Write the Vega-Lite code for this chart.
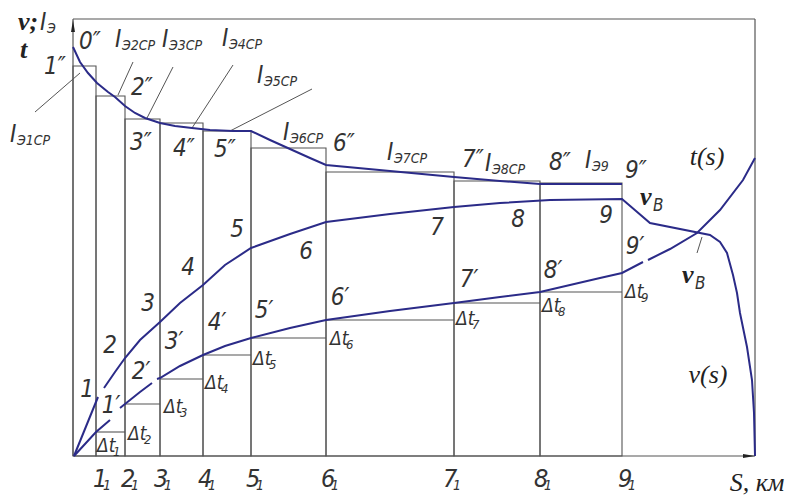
{
  "$schema": "https://vega.github.io/schema/vega-lite/v6.json",
  "width": 790,
  "height": 496,
  "padding": 0,
  "autosize": "none",
  "background": "white",
  "config": {"view": {"stroke": null}},
  "datasets": {
    "bars": [
      {"x": 0, "x2": 23, "y": 390},
      {"x": 23, "x2": 52, "y": 360},
      {"x": 52, "x2": 87, "y": 337},
      {"x": 87, "x2": 130, "y": 333},
      {"x": 130, "x2": 178, "y": 325},
      {"x": 178, "x2": 253, "y": 308},
      {"x": 253, "x2": 381, "y": 284},
      {"x": 381, "x2": 467, "y": 275},
      {"x": 467, "x2": 549, "y": 273}
    ],
    "dt": [
      {"x": 23, "x2": 52, "y": 24},
      {"x": 52, "x2": 87, "y": 52},
      {"x": 87, "x2": 130, "y": 77},
      {"x": 130, "x2": 178, "y": 101},
      {"x": 178, "x2": 253, "y": 118},
      {"x": 253, "x2": 381, "y": 136},
      {"x": 381, "x2": 467, "y": 153},
      {"x": 467, "x2": 549, "y": 164}
    ],
    "frame": [
      {"x": 0, "y": 0, "x2": 682, "y2": 0},
      {"x": 0, "y": 0, "x2": 0, "y2": 437},
      {"x": 0, "y": 437, "x2": 682, "y2": 437},
      {"x": 682, "y": 0, "x2": 682, "y2": 437}
    ],
    "leaders": [
      {"x": -38, "y": 344, "x2": 7, "y2": 383},
      {"x": 60, "y": 394, "x2": 45, "y2": 361},
      {"x": 100, "y": 389, "x2": 74, "y2": 338},
      {"x": 160, "y": 391, "x2": 119, "y2": 328},
      {"x": 239, "y": 367, "x2": 157, "y2": 325},
      {"x": 629, "y": 219, "x2": 624, "y2": 203}
    ],
    "curves": [
      {"seg": "u", "x": 0, "y": 409}, {"seg": "u", "x": 7, "y": 394}, {"seg": "u", "x": 15, "y": 383},
      {"seg": "u", "x": 24, "y": 373}, {"seg": "u", "x": 35, "y": 364}, {"seg": "u", "x": 42, "y": 359},
      {"seg": "u", "x": 52, "y": 350}, {"seg": "u", "x": 62, "y": 343}, {"seg": "u", "x": 72, "y": 338},
      {"seg": "u", "x": 87, "y": 333}, {"seg": "u", "x": 102, "y": 330}, {"seg": "u", "x": 119, "y": 328},
      {"seg": "u", "x": 137, "y": 326}, {"seg": "u", "x": 160, "y": 325}, {"seg": "u", "x": 178, "y": 325},
      {"seg": "u", "x": 197, "y": 316}, {"seg": "u", "x": 217, "y": 307}, {"seg": "u", "x": 237, "y": 298},
      {"seg": "u", "x": 253, "y": 291}, {"seg": "u", "x": 317, "y": 285}, {"seg": "u", "x": 381, "y": 279},
      {"seg": "u", "x": 427, "y": 275}, {"seg": "u", "x": 467, "y": 272}, {"seg": "u", "x": 507, "y": 272},
      {"seg": "u", "x": 549, "y": 272},
      {"seg": "v1", "x": 1, "y": 0}, {"seg": "v1", "x": 25, "y": 59},
      {"seg": "v2", "x": 31, "y": 68}, {"seg": "v2", "x": 42, "y": 84}, {"seg": "v2", "x": 52, "y": 98},
      {"seg": "v2", "x": 67, "y": 116}, {"seg": "v2", "x": 87, "y": 134}, {"seg": "v2", "x": 107, "y": 153},
      {"seg": "v2", "x": 130, "y": 171}, {"seg": "v2", "x": 152, "y": 191}, {"seg": "v2", "x": 178, "y": 208},
      {"seg": "v2", "x": 217, "y": 222}, {"seg": "v2", "x": 253, "y": 234}, {"seg": "v2", "x": 317, "y": 242},
      {"seg": "v2", "x": 381, "y": 249}, {"seg": "v2", "x": 427, "y": 253}, {"seg": "v2", "x": 477, "y": 256},
      {"seg": "v2", "x": 549, "y": 257}, {"seg": "v2", "x": 563, "y": 245}, {"seg": "v2", "x": 577, "y": 233},
      {"seg": "v2", "x": 637, "y": 221}, {"seg": "v2", "x": 647, "y": 214}, {"seg": "v2", "x": 654, "y": 203},
      {"seg": "v2", "x": 660, "y": 181}, {"seg": "v2", "x": 664, "y": 163}, {"seg": "v2", "x": 667, "y": 143},
      {"seg": "v2", "x": 674, "y": 109}, {"seg": "v2", "x": 679, "y": 76}, {"seg": "v2", "x": 681, "y": 43},
      {"seg": "v2", "x": 682, "y": 0},
      {"seg": "t1", "x": 1, "y": 0}, {"seg": "t1", "x": 23, "y": 24}, {"seg": "t1", "x": 37, "y": 36},
      {"seg": "t2", "x": 47, "y": 48}, {"seg": "t2", "x": 52, "y": 52}, {"seg": "t2", "x": 67, "y": 64},
      {"seg": "t2", "x": 79, "y": 73},
      {"seg": "t3", "x": 84, "y": 77}, {"seg": "t3", "x": 87, "y": 78}, {"seg": "t3", "x": 107, "y": 90},
      {"seg": "t3", "x": 130, "y": 101}, {"seg": "t3", "x": 152, "y": 110}, {"seg": "t3", "x": 178, "y": 118},
      {"seg": "t3", "x": 217, "y": 128}, {"seg": "t3", "x": 253, "y": 136}, {"seg": "t3", "x": 317, "y": 145},
      {"seg": "t3", "x": 381, "y": 153}, {"seg": "t3", "x": 427, "y": 159}, {"seg": "t3", "x": 467, "y": 164},
      {"seg": "t3", "x": 527, "y": 178}, {"seg": "t3", "x": 549, "y": 183}, {"seg": "t3", "x": 570, "y": 194},
      {"seg": "t4", "x": 575, "y": 196}, {"seg": "t4", "x": 597, "y": 207}, {"seg": "t4", "x": 624, "y": 223},
      {"seg": "t4", "x": 647, "y": 246}, {"seg": "t4", "x": 670, "y": 276}, {"seg": "t4", "x": 682, "y": 298}
    ],
    "arrows": [
      {"x": 0, "y": 430, "d": "up"},
      {"x": 676, "y": 0, "d": "right"}
    ],
    "nums": [
      {"t": "0″", "x": 17, "y": 414}, {"t": "1″", "x": -18, "y": 389}, {"t": "2″", "x": 69, "y": 368},
      {"t": "3″", "x": 68, "y": 313}, {"t": "4″", "x": 111, "y": 307}, {"t": "5″", "x": 152, "y": 306},
      {"t": "6″", "x": 271, "y": 312}, {"t": "7″", "x": 400, "y": 296}, {"t": "8″", "x": 487, "y": 293},
      {"t": "9″", "x": 563, "y": 285},
      {"t": "1", "x": 14, "y": 66}, {"t": "2", "x": 37, "y": 110}, {"t": "3", "x": 75, "y": 152},
      {"t": "4", "x": 115, "y": 188}, {"t": "5", "x": 164, "y": 226}, {"t": "6", "x": 233, "y": 204},
      {"t": "7", "x": 364, "y": 228}, {"t": "8", "x": 445, "y": 236}, {"t": "9", "x": 533, "y": 240},
      {"t": "1′", "x": 38, "y": 50}, {"t": "2′", "x": 68, "y": 84}, {"t": "3′", "x": 101, "y": 114},
      {"t": "4′", "x": 144, "y": 133}, {"t": "5′", "x": 191, "y": 145}, {"t": "6′", "x": 267, "y": 158},
      {"t": "7′", "x": 396, "y": 176}, {"t": "8′", "x": 480, "y": 185}, {"t": "9′", "x": 562, "y": 209}
    ],
    "dtl": [
      {"x": 24, "y": 4, "s": "1"}, {"x": 55, "y": 16, "s": "2"}, {"x": 91, "y": 43, "s": "3"},
      {"x": 132, "y": 67, "s": "4"}, {"x": 180, "y": 91, "s": "5"}, {"x": 257, "y": 111, "s": "6"},
      {"x": 383, "y": 131, "s": "7"}, {"x": 469, "y": 144, "s": "8"}, {"x": 552, "y": 158, "s": "9"}
    ],
    "ticks": [
      {"x": 20, "y": -31, "d": "1"}, {"x": 48, "y": -31, "d": "2"}, {"x": 81, "y": -31, "d": "3"},
      {"x": 125, "y": -31, "d": "4"}, {"x": 173, "y": -31, "d": "5"}, {"x": 248, "y": -31, "d": "6"},
      {"x": 370, "y": -31, "d": "7"}, {"x": 461, "y": -31, "d": "8"}, {"x": 545, "y": -31, "d": "9"}
    ],
    "ilabels": [
      {"x": -63, "y": 314, "s": "Э1СР"}, {"x": 42, "y": 409, "s": "Э2СР"}, {"x": 89, "y": 409, "s": "Э3СР"},
      {"x": 149, "y": 410, "s": "Э4СР"}, {"x": 184, "y": 373, "s": "Э5СР"}, {"x": 210, "y": 316, "s": "Э6СР"},
      {"x": 314, "y": 296, "s": "Э7СР"}, {"x": 412, "y": 285, "s": "Э8СР"}, {"x": 512, "y": 288, "s": "Э9"},
      {"x": -33, "y": 426, "s": "Э"}
    ],
    "serif": [
      {"t": "t(s)", "x": 634, "y": 299},
      {"t": "v(s)", "x": 635, "y": 81},
      {"t": "S, км", "x": 684, "y": -27}
    ],
    "bold": [
      {"t": "v;", "x": -55, "y": 426},
      {"t": "t", "x": -53, "y": 398}
    ],
    "vb": [
      {"x": 567, "y": 251},
      {"x": 609, "y": 173}
    ]
  },
  "encoding": {
    "x": {"field": "x", "type": "quantitative", "scale": {"domain": [-73, 717], "nice": false, "zero": false}, "axis": null},
    "y": {"field": "y", "type": "quantitative", "scale": {"domain": [-40, 456], "nice": false, "zero": false}, "axis": null}
  },
  "layer": [
    {
      "data": {"name": "bars"},
      "mark": {"type": "rect", "fill": "transparent", "stroke": "#555555", "strokeWidth": 1.1},
      "encoding": {"x2": {"field": "x2"}, "y2": {"datum": 0}}
    },
    {
      "data": {"name": "dt"},
      "mark": {"type": "rule", "stroke": "#555555", "strokeWidth": 1.1},
      "encoding": {"x2": {"field": "x2"}}
    },
    {
      "data": {"name": "frame"},
      "mark": {"type": "rule", "stroke": "#555555", "strokeWidth": 1.2},
      "encoding": {"x2": {"field": "x2"}, "y2": {"field": "y2"}}
    },
    {
      "data": {"name": "leaders"},
      "mark": {"type": "rule", "stroke": "#555555", "strokeWidth": 1},
      "encoding": {"x2": {"field": "x2"}, "y2": {"field": "y2"}}
    },
    {
      "data": {"name": "curves"},
      "mark": {"type": "line", "stroke": "#2b2b88", "strokeWidth": 2},
      "encoding": {"detail": {"field": "seg"}}
    },
    {
      "data": {"name": "arrows"},
      "mark": {"type": "point", "filled": true, "color": "#222222", "size": 144, "opacity": 1},
      "encoding": {
        "shape": {"field": "d", "type": "nominal", "legend": null,
          "scale": {"domain": ["up", "right"], "range": ["M0,-1L0.33,1L-0.33,1Z", "M1,0L-1,-0.33L-1,0.33Z"]}}
      }
    },
    {
      "data": {"name": "nums"},
      "mark": {"type": "text", "font": "Liberation Sans Narrow, DejaVu Sans Condensed, DejaVu Sans", "fontStyle": "italic", "fontSize": 24, "fill": "#333333", "align": "center", "baseline": "middle"},
      "encoding": {"text": {"field": "t"}}
    },
    {
      "data": {"name": "dtl"},
      "mark": {"type": "text", "font": "Liberation Sans Narrow, DejaVu Sans Condensed, DejaVu Sans", "fontStyle": "italic", "fontSize": 19, "fill": "#333333", "align": "left", "baseline": "alphabetic", "text": "Δt"}
    },
    {
      "data": {"name": "dtl"},
      "mark": {"type": "text", "font": "Liberation Sans Narrow, DejaVu Sans Condensed, DejaVu Sans", "fontStyle": "italic", "fontSize": 13, "fill": "#333333", "align": "left", "baseline": "alphabetic", "dx": 16, "dy": 4},
      "encoding": {"text": {"field": "s"}}
    },
    {
      "data": {"name": "ticks"},
      "mark": {"type": "text", "font": "Liberation Sans Narrow, DejaVu Sans Condensed, DejaVu Sans", "fontStyle": "italic", "fontSize": 25, "fill": "#333333", "align": "left", "baseline": "alphabetic"},
      "encoding": {"text": {"field": "d"}}
    },
    {
      "data": {"name": "ticks"},
      "mark": {"type": "text", "font": "Liberation Sans Narrow, DejaVu Sans Condensed, DejaVu Sans", "fontStyle": "italic", "fontSize": 14, "fill": "#333333", "align": "left", "baseline": "alphabetic", "dx": 10, "dy": 3, "text": "1"}
    },
    {
      "data": {"name": "ilabels"},
      "mark": {"type": "text", "font": "Liberation Sans Narrow, DejaVu Sans Condensed, DejaVu Sans", "fontStyle": "italic", "fontSize": 24, "fill": "#333333", "align": "left", "baseline": "alphabetic", "text": "I"}
    },
    {
      "data": {"name": "ilabels"},
      "mark": {"type": "text", "font": "Liberation Sans Narrow, DejaVu Sans Condensed, DejaVu Sans", "fontStyle": "italic", "fontSize": 14, "fill": "#333333", "align": "left", "baseline": "alphabetic", "dx": 7, "dy": 3},
      "encoding": {"text": {"field": "s"}}
    },
    {
      "data": {"name": "serif"},
      "mark": {"type": "text", "font": "Liberation Serif", "fontStyle": "italic", "fontSize": 26, "fill": "#222222", "align": "center", "baseline": "middle"},
      "encoding": {"text": {"field": "t"}}
    },
    {
      "data": {"name": "bold"},
      "mark": {"type": "text", "font": "Liberation Serif", "fontStyle": "italic", "fontWeight": "bold", "fontSize": 26, "fill": "#222222", "align": "left", "baseline": "alphabetic"},
      "encoding": {"text": {"field": "t"}}
    },
    {
      "data": {"name": "vb"},
      "mark": {"type": "text", "font": "Liberation Serif", "fontStyle": "italic", "fontWeight": "bold", "fontSize": 26, "fill": "#222222", "align": "left", "baseline": "alphabetic", "text": "v"}
    },
    {
      "data": {"name": "vb"},
      "mark": {"type": "text", "font": "Liberation Sans Narrow, DejaVu Sans Condensed, DejaVu Sans", "fontStyle": "italic", "fontSize": 17, "fill": "#333333", "align": "left", "baseline": "alphabetic", "dx": 13, "dy": 6, "text": "B"}
    }
  ]
}
